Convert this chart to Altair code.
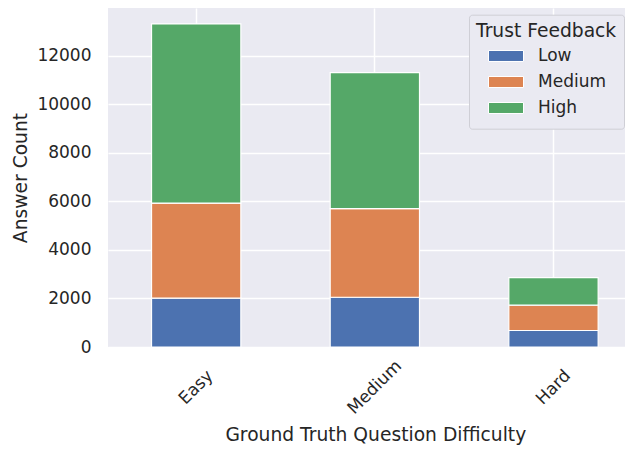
import altair as alt
import pandas as pd

# ---- data ----
categories = ["Easy", "Medium", "Hard"]
trust_levels = ["Low", "Medium", "High"]
low_counts = [2010, 2050, 680]
medium_counts = [3920, 3650, 1045]
high_counts = [7380, 5600, 1130]
y_tick_values = [0, 2000, 4000, 6000, 8000, 10000, 12000]
palette = ["#4c72b0", "#dd8452", "#55a868"]

series = [low_counts, medium_counts, high_counts]
rows = []
for i, cat in enumerate(categories):
    for j, lvl in enumerate(trust_levels):
        rows.append({"difficulty": cat, "trust": lvl, "stack_order": j, "count": series[j][i]})
df = pd.DataFrame(rows)

FONT = "DejaVu Sans"
TEXT = "#262626"
legend_symbol = "M-1,-0.314H1V0.314H-1Z"

chart = (
    alt.Chart(df)
    .mark_bar(stroke="white", strokeWidth=1.2)
    .encode(
        x=alt.X(
            "difficulty:N",
            sort=categories,
            title="Ground Truth Question Difficulty",
            scale=alt.Scale(paddingInner=0.5, paddingOuter=0.197, align=0.6185),
            axis=alt.Axis(
                labelAngle=-45,
                labelAlign="center",
                labelBaseline="middle",
                labelPadding=40,
                grid=True,
                bandPosition=0.5,
                titleX=267.3,
                titleY=93.5,
                titleBaseline="alphabetic",
                titleAlign="center",
            ),
        ),
        y=alt.Y(
            "count:Q",
            stack="zero",
            title="Answer Count",
            scale=alt.Scale(domain=[0, 13965], nice=False, zero=True),
            axis=alt.Axis(
                values=y_tick_values,
                format="d",
                labelPadding=17,
                titleX=-81.3,
                titleY=169.5,
                titleAngle=270,
                titleBaseline="alphabetic",
                titleAlign="center",
            ),
        ),
        color=alt.Color(
            "trust:N",
            sort=trust_levels,
            scale=alt.Scale(domain=trust_levels, range=palette),
            legend=alt.Legend(
                title="Trust Feedback",
                orient="none",
                legendX=361,
                legendY=6.7,
            ),
        ),
        order=alt.Order("stack_order:Q", sort="ascending"),
    )
    .properties(
        width=517,
        height=339,
        padding={"left": 100, "top": 0, "right": 0, "bottom": 98},
        autosize=alt.AutoSizeParams(type="none"),
        background="white",
    )
    .configure_view(fill="#eaeaf2", stroke="transparent", strokeWidth=0)
    .configure_axis(
        labelFont=FONT,
        labelFontSize=17,
        labelColor=TEXT,
        titleFont=FONT,
        titleFontSize=18.7,
        titleColor=TEXT,
        titleFontWeight="normal",
        domain=False,
        ticks=False,
        tickSize=0,
        gridColor="white",
        gridWidth=1.5,
        gridOpacity=1,
    )
    .configure_legend(
        titleFont=FONT,
        titleFontSize=18.7,
        titleFontWeight="normal",
        titleColor=TEXT,
        titlePadding=2.6,
        labelFont=FONT,
        labelFontSize=17,
        labelColor=TEXT,
        labelOffset=14,
        padding=7,
        fillColor="#eaeaf2",
        strokeColor="#cfcfd6",
        cornerRadius=3,
        symbolType=legend_symbol,
        symbolSize=1225,
        symbolStrokeColor="white",
        symbolStrokeWidth=1,
        symbolOpacity=1,
        symbolOffset=12,
        clipHeight=26,
        rowPadding=0,
    )
)

chart.save("out.html", embed_options={"renderer": "svg", "actions": False})
